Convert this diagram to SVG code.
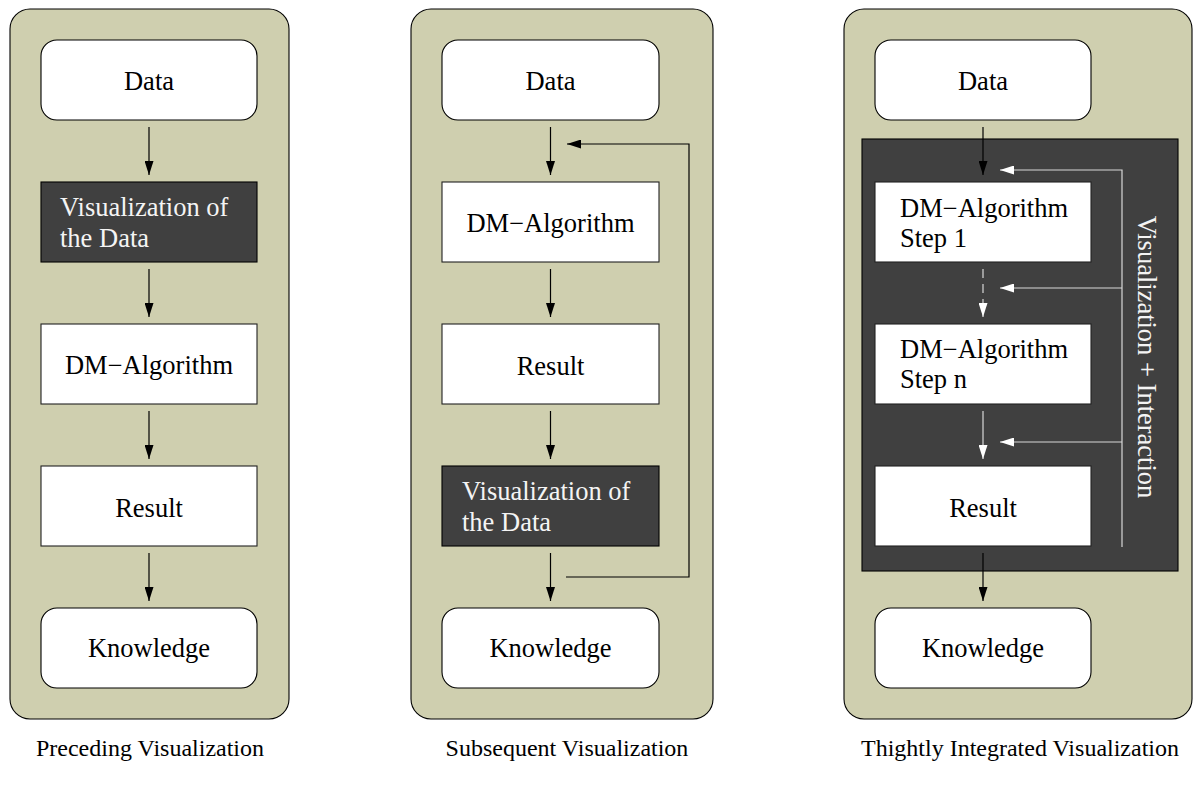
<svg xmlns="http://www.w3.org/2000/svg" width="1204" height="787" viewBox="0 0 1204 787">
  <defs>
    <marker id="ah" viewBox="0 0 14 9" refX="14" refY="4.5" markerWidth="14" markerHeight="9" markerUnits="userSpaceOnUse" orient="auto">
      <path d="M0,0 L14,4.5 L0,9 z" fill="#000"/>
    </marker>
    <marker id="ahw" viewBox="0 0 14 9" refX="14" refY="4.5" markerWidth="14" markerHeight="9" markerUnits="userSpaceOnUse" orient="auto">
      <path d="M0,0 L14,4.5 L0,9 z" fill="#ffffff"/>
    </marker>
  </defs>
  <style>
    .panel { fill: #cfcfaf; stroke: #000; stroke-width: 1.1; }
    .round { fill: #ffffff; stroke: #000; stroke-width: 1.1; }
    .box { fill: #ffffff; stroke: #222; stroke-width: 1.1; }
    .dark { fill: #404040; stroke: #000; stroke-width: 1.1; }
    .t { font-family: "Liberation Serif", "Times New Roman", serif; font-size: 26.5px; fill: #000; }
    .tw { font-family: "Liberation Serif", "Times New Roman", serif; font-size: 26.5px; fill: #f4f4f4; }
    .mid { text-anchor: middle; }
    .cap { font-family: "Liberation Serif", "Times New Roman", serif; font-size: 24px; fill: #000; text-anchor: middle; }
    .c { fill: none; stroke: #000; stroke-width: 1.2; }
    .cw { fill: none; stroke: #d8d8d8; stroke-width: 1.2; }
  </style>

  <!-- background panels -->
  <g id="panel-preceding"><rect class="panel" x="10" y="9" width="279" height="710" rx="20"/></g>
  <g id="panel-subsequent"><rect class="panel" x="411" y="9" width="302" height="710" rx="20"/></g>
  <g id="panel-integrated">
    <rect class="panel" x="844" y="9" width="348" height="710" rx="20"/>
    <rect class="dark" x="862" y="139" width="316" height="432"/>
  </g>

  <!-- Preceding Visualization -->
  <g id="p1-data"><rect class="round" x="41" y="40" width="216" height="80" rx="16"/><text class="t mid" x="149" y="90">Data</text></g>
  <g id="p1-vis"><rect class="dark" x="41" y="182" width="216" height="80"/><text class="tw" x="60" y="216">Visualization of</text><text class="tw" x="60" y="247">the Data</text></g>
  <g id="p1-dm"><rect class="box" x="41" y="324" width="216" height="80"/><text class="t mid" x="149" y="374">DM−Algorithm</text></g>
  <g id="p1-result"><rect class="box" x="41" y="466" width="216" height="80"/><text class="t mid" x="149" y="517">Result</text></g>
  <g id="p1-knowledge"><rect class="round" x="41" y="608" width="216" height="80" rx="16"/><text class="t mid" x="149" y="657">Knowledge</text></g>

  <!-- Subsequent Visualization -->
  <g id="p2-data"><rect class="round" x="442" y="40" width="217" height="80" rx="16"/><text class="t mid" x="550.5" y="90">Data</text></g>
  <g id="p2-dm"><rect class="box" x="442" y="182" width="217" height="80"/><text class="t mid" x="550.5" y="232">DM−Algorithm</text></g>
  <g id="p2-result"><rect class="box" x="442" y="324" width="217" height="80"/><text class="t mid" x="550.5" y="375">Result</text></g>
  <g id="p2-vis"><rect class="dark" x="442" y="466" width="217" height="80"/><text class="tw" x="462" y="500">Visualization of</text><text class="tw" x="462" y="531">the Data</text></g>
  <g id="p2-knowledge"><rect class="round" x="442" y="608" width="217" height="80" rx="16"/><text class="t mid" x="550.5" y="657">Knowledge</text></g>

  <!-- Tightly integrated visualization -->
  <g id="p3-data"><rect class="round" x="875" y="40" width="216" height="80" rx="16"/><text class="t mid" x="983" y="90">Data</text></g>
  <g id="p3-step1"><rect class="box" x="875" y="182" width="216" height="80"/><text class="t" x="900" y="217">DM−Algorithm</text><text class="t" x="900" y="247">Step 1</text></g>
  <g id="p3-stepn"><rect class="box" x="875" y="324" width="216" height="80"/><text class="t" x="900" y="358">DM−Algorithm</text><text class="t" x="900" y="388">Step n</text></g>
  <g id="p3-result"><rect class="box" x="875" y="466" width="216" height="80"/><text class="t mid" x="983" y="517">Result</text></g>
  <g id="p3-knowledge"><rect class="round" x="875" y="608" width="216" height="80" rx="16"/><text class="t mid" x="983" y="657">Knowledge</text></g>
  <g id="p3-vi-label"><text class="tw mid" transform="translate(1138,357) rotate(90)">Visualization + Interaction</text></g>

  <!-- connectors -->
  <g id="connectors">
    <line class="c" x1="149" y1="127" x2="149" y2="175" marker-end="url(#ah)"/>
    <line class="c" x1="149" y1="269" x2="149" y2="317" marker-end="url(#ah)"/>
    <line class="c" x1="149" y1="411" x2="149" y2="459" marker-end="url(#ah)"/>
    <line class="c" x1="149" y1="553" x2="149" y2="601" marker-end="url(#ah)"/>

    <line class="c" x1="550.5" y1="127" x2="550.5" y2="175" marker-end="url(#ah)"/>
    <line class="c" x1="550.5" y1="269" x2="550.5" y2="317" marker-end="url(#ah)"/>
    <line class="c" x1="550.5" y1="411" x2="550.5" y2="459" marker-end="url(#ah)"/>
    <line class="c" x1="550.5" y1="553" x2="550.5" y2="601" marker-end="url(#ah)"/>
    <polyline class="c" points="566,577 689,577 689,144 567,144" marker-end="url(#ah)"/>

    <line class="c" x1="983" y1="127" x2="983" y2="175" marker-end="url(#ah)"/>
    <line class="cw" x1="983" y1="269" x2="983" y2="317" stroke-dasharray="9 6" marker-end="url(#ahw)"/>
    <line class="cw" x1="983" y1="411" x2="983" y2="459" marker-end="url(#ahw)"/>
    <line class="c" x1="983" y1="553" x2="983" y2="601" marker-end="url(#ah)"/>
    <polyline class="cw" points="1122,547 1122,170 1000,170" marker-end="url(#ahw)"/>
    <line class="cw" x1="1122" y1="288" x2="1000" y2="288" marker-end="url(#ahw)"/>
    <line class="cw" x1="1122" y1="442" x2="1000" y2="442" marker-end="url(#ahw)"/>
  </g>

  <!-- captions -->
  <g id="captions">
    <text class="cap" x="150" y="756">Preceding Visualization</text>
    <text class="cap" x="567" y="756">Subsequent Visualization</text>
    <text class="cap" x="1020" y="756">Thightly Integrated Visualization</text>
  </g>
</svg>
